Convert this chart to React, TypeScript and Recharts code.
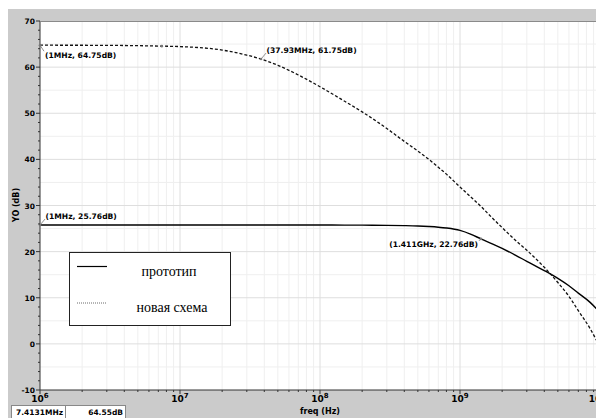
import React from "react";
import { LineChart, Line, XAxis, YAxis, ReferenceLine, ReferenceDot, Legend } from "recharts";

// frequency points (Hz)
const freqs = [
  1e6, 2e6, 5e6, 7.4131e6, 1e7, 2e7, 3e7, 3.793e7, 5e7, 7e7, 1e8, 1.5e8, 2e8, 3e8, 4e8, 5e8, 6e8, 7e8, 8e8,
  1e9, 1.2e9, 1.411e9, 1.7e9, 2e9, 2.5e9, 3e9, 4e9, 5e9, 6e9, 7e9, 8.5e9, 1e10,
];
// "прототип" (solid)
const protoDb = [
  25.76, 25.76, 25.76, 25.76, 25.76, 25.76, 25.76, 25.76, 25.76, 25.76, 25.76, 25.75, 25.74, 25.7, 25.64, 25.56, 25.44, 25.3, 25.12,
  24.6, 23.75, 22.76, 21.7, 20.7, 19.2, 17.9, 15.9, 14.2, 12.6, 11.0, 9.0, 6.8,
];
// "новая схема" (dashed)
const newDb = [
  64.75, 64.74, 64.65, 64.55, 64.45, 63.7, 62.6, 61.75, 60.4, 58.3, 55.75, 52.6, 50.3, 46.7, 43.9, 41.8, 40.0, 38.3, 36.8,
  34.0, 31.8, 29.8, 27.3, 25.2, 22.4, 20.3, 16.6, 13.3, 10.3, 7.2, 3.3, -0.7,
];

const xTicks = [
  1e6, 2e6, 3e6, 4e6, 5e6, 6e6, 7e6, 8e6, 9e6,
  1e7, 2e7, 3e7, 4e7, 5e7, 6e7, 7e7, 8e7, 9e7,
  1e8, 2e8, 3e8, 4e8, 5e8, 6e8, 7e8, 8e8, 9e8,
  1e9, 2e9, 3e9, 4e9, 5e9, 6e9, 7e9, 8e9, 9e9, 1e10,
];
const decades = [1e7, 1e8, 1e9];
const xMinor = xTicks.filter((t) => t !== 1e6 && t !== 1e10 && !decades.includes(t));
const yTicks = [-10, -8, -6, -4, -2, 0, 2, 4, 6, 8, 10, 12, 14, 16, 18, 20, 22, 24, 26, 28, 30, 32, 34, 36, 38, 40, 42, 44, 46, 48, 50, 52, 54, 56, 58, 60, 62, 64, 66, 68, 70];
const yGridMajor = [0, 10, 20, 30, 40, 50, 60];
const yGridMinor = [-5, 5, 15, 25, 35, 45, 55, 65];

const markers = [
  { f: 1e6, v: 64.75, text: "(1MHz, 64.75dB)", side: "below" },
  { f: 3.793e7, v: 61.75, text: "(37.93MHz, 61.75dB)", side: "above" },
  { f: 1e6, v: 25.76, text: "(1MHz, 25.76dB)", side: "above" },
  { f: 1.411e9, v: 22.76, text: "(1.411GHz, 22.76dB)", side: "left" },
];

const data = freqs.map((f, i) => ({ f, proto: protoDb[i], novel: newDb[i] }));

const FONT = "'DejaVu Sans', Verdana, sans-serif";

const XTick = (props: any) => {
  const { x, y, payload } = props;
  const v = payload.value;
  const exp = Math.round(Math.log10(v));
  const major = Math.abs(v - Math.pow(10, exp)) < v * 1e-6;
  return (
    <g>
      <line x1={x} y1={y} x2={x} y2={y + (major ? 4 : 2)} stroke="#333" />
      {major && (
        <text x={x} y={y + 12} textAnchor="middle" fontFamily={FONT} fontWeight="bold" fontSize={9} fill="#000">
          10<tspan dy={-4} fontSize={7}>{exp}</tspan>
        </text>
      )}
    </g>
  );
};

const YTick = (props: any) => {
  const { x, y, payload } = props;
  const v = payload.value;
  const major = v % 10 === 0;
  return (
    <g>
      <line x1={x - (major ? 4 : 2)} y1={y} x2={x} y2={y} stroke="#333" />
      {major && (
        <text x={x - 5} y={y + 3} textAnchor="end" fontFamily={FONT} fontWeight="bold" fontSize={7.5} fill="#000">
          {v}
        </text>
      )}
    </g>
  );
};

const markerShape = (m: any) => (props: any) => {
  const { cx, cy } = props;
  let line, text;
  if (m.side === "below") {
    line = [cx + 4, cy + 6];
    text = <text x={cx + 5} y={cy + 13} fontFamily={FONT} fontWeight="bold" fontSize={7.6}>{m.text}</text>;
  } else if (m.side === "above") {
    line = [cx + 5, cy - 6];
    text = <text x={cx + 5.5} y={cy - 6} fontFamily={FONT} fontWeight="bold" fontSize={7.6}>{m.text}</text>;
  } else {
    line = [cx - 2, cy + 2];
    text = <text x={cx - 3} y={cy + 8} textAnchor="end" fontFamily={FONT} fontWeight="bold" fontSize={7.6}>{m.text}</text>;
  }
  return (
    <g>
      <circle cx={cx} cy={cy} r={1.3} fill="#777" />
      <line x1={cx} y1={cy} x2={line[0]} y2={line[1]} stroke="#777" strokeWidth={0.8} />
      {text}
    </g>
  );
};

const LegendBox = () => (
  <svg width={162} height={74} style={{ display: "block" }}>
    <rect x={0.5} y={0.5} width={161} height={73} fill="#fff" stroke="#222" />
    <line x1={8} y1={14.5} x2={38} y2={14.5} stroke="#000" strokeWidth={1.2} />
    <line x1={8} y1={51} x2={38} y2={51} stroke="#444" strokeWidth={0.8} strokeDasharray="1 1" />
    <text x={100} y={24} textAnchor="middle" fontFamily="'Liberation Serif', serif" fontSize={14}>прототип</text>
    <text x={103} y={60} textAnchor="middle" fontFamily="'Liberation Serif', serif" fontSize={14}>новая схема</text>
  </svg>
);

const small = { fontFamily: FONT, fontWeight: "bold" as const, fontSize: 7.5 };

// grey window surround with the plot area cut out (even-odd fill)
const panelPath = "M6 9 H604 V418 H6 Z M40 21 V390 H600 V21 Z";

export default function App() {
  return (
    <div style={{ position: "relative", width: 604, height: 418, margin: "-8px 0 0 -8px", overflow: "hidden" }}>
      <div style={{ position: "absolute", left: 0, top: 0, width: 604, height: 418 }}>
        <LineChart width={604} height={418} data={data} margin={{ top: 21, right: 4, bottom: 0, left: 6 }}>
          <g>
            <path d={panelPath} fill="#cbcbcb" fillRule="evenodd" />
            <path d="M0 0 H604 V5 H0 Z" fill="#000" />
          </g>
          {xMinor.map((t) => (
            <ReferenceLine key={"xm" + t} x={t} stroke="#efefef" />
          ))}
          {yGridMinor.map((v) => (
            <ReferenceLine key={"m" + v} y={v} stroke="#efefef" />
          ))}
          {yGridMajor.map((v) => (
            <ReferenceLine key={"M" + v} y={v} stroke="#dedede" />
          ))}
          {decades.map((d) => (
            <ReferenceLine key={"d" + d} x={d} stroke="#dedede" />
          ))}
          <XAxis
            dataKey="f"
            type="number"
            scale="log"
            domain={[1e6, 1e10]}
            ticks={xTicks}
            interval={0}
            height={28}
            tickSize={0}
            tickMargin={0}
            tick={<XTick />}
            stroke="#333"
            allowDataOverflow
          />
          <YAxis
            type="number"
            domain={[-10, 70]}
            ticks={yTicks}
            interval={0}
            width={34}
            tickSize={0}
            tickMargin={0}
            tick={<YTick />}
            stroke="#333"
            allowDataOverflow
          />
          <Line dataKey="proto" name="прототип" type="monotone" stroke="#000" strokeWidth={1.4} dot={false} isAnimationActive={false} />
          <Line dataKey="novel" name="новая схема" type="monotone" stroke="#111" strokeWidth={1.3} strokeDasharray="3 2" dot={false} isAnimationActive={false} />
          <ReferenceDot x={7.4131e6} y={64.55} r={1.3} fill="#777" stroke="none" />
          {markers.map((m) => (
            <ReferenceDot key={m.text} x={m.f} y={m.v} shape={markerShape(m)} />
          ))}
          <Legend
            layout="vertical"
            align="center"
            verticalAlign="middle"
            content={<LegendBox />}
            wrapperStyle={{ left: 69, top: 252, width: 162, height: 74, right: "auto", bottom: "auto" }}
          />
        </LineChart>
      </div>
      {/* frame, axis titles and cursor readout */}
      <svg width={604} height={418} style={{ position: "absolute", left: 0, top: 0, pointerEvents: "none" }}>
        <polyline points="40,21.5 600.5,21.5 600.5,390" fill="none" stroke="#8a8a8a" />
        <text x={19} y={205} transform="rotate(-90 19 205)" textAnchor="middle" {...small} fontSize={8}>
          YO (dB)
        </text>
        <text x={300} y={414} {...small} fontSize={8}>
          freq (Hz)
        </text>
        <rect x={11.5} y={405.5} width={54} height={13} fill="#fff" stroke="#888" />
        <rect x={65.5} y={405.5} width={60} height={13} fill="#fff" stroke="#888" />
        <text x={16} y={415} {...small}>7.4131MHz</text>
        <text x={123} y={415} textAnchor="end" {...small}>64.55dB</text>
      </svg>
    </div>
  );
}
